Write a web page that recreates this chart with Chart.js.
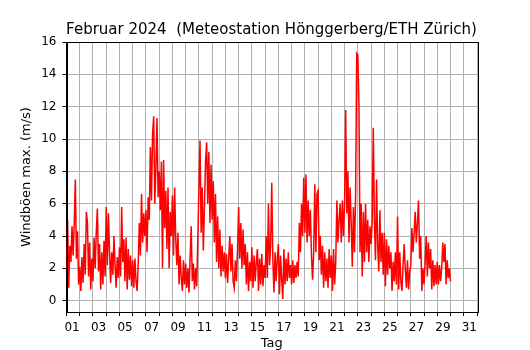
<!DOCTYPE html>
<html>
<head>
<meta charset="utf-8">
<script src="https://cdn.jsdelivr.net/npm/chart.js@4"></script>
<style>
  html, body { margin: 0; padding: 0; background: #ffffff; }
  canvas { display: block; }
</style>
</head>
<body>
<canvas id="c" width="530" height="350"></canvas>
<script>
// Max. wind gusts (m/s), one value every 2 hours
const stepDays = 1 / 12;
const week1 = [ // days 0-6
  2.0, 5.0, 0.8, 3.4, 2.4, 4.6, 2.8, 4.7, 7.5, 2.6, 4.3, 1.0,
  2.1, 0.6, 2.7, 1.1, 3.5, 1.6, 5.5, 4.8, 1.5, 3.6, 0.7, 2.6,
  1.2, 3.9, 2.0, 4.3, 5.7, 1.8, 3.5, 0.7, 3.0, 1.0, 3.7, 1.5,
  5.8, 2.2, 5.4, 3.0, 1.1, 3.0, 1.6, 4.0, 2.2, 0.8, 2.7, 1.4,
  3.3, 1.5, 5.8, 2.4, 3.8, 1.2, 3.9, 0.7, 3.2, 1.3, 2.8, 0.9,
  2.5, 0.8, 2.6, 1.2, 0.6, 2.3, 4.8, 2.8, 6.6, 3.6, 5.4, 4.0,
  5.6, 3.0, 6.4, 5.0, 9.5, 6.2, 10.3, 11.4, 6.0, 8.2, 11.3, 6.4
];
const week2 = [ // days 7-13
  8.0, 5.6, 8.6, 2.0, 8.7, 4.5, 6.8, 3.2, 7.0, 2.0, 5.5, 4.0,
  6.5, 2.8, 7.0, 3.8, 2.2, 4.2, 1.0, 2.8, 1.4, 0.6, 2.5, 1.0,
  2.3, 0.8, 2.0, 0.5, 2.6, 4.6, 1.2, 2.3, 0.7, 2.0, 0.9, 3.8,
  7.0, 9.9, 4.2, 7.0, 3.1, 5.8, 8.6, 9.8, 6.0, 9.2, 4.8, 8.4,
  5.0, 7.4, 3.6, 6.6, 2.4, 5.2, 2.0, 4.4, 1.5, 3.4, 1.8, 3.0,
  1.4, 2.9, 1.1, 2.6, 4.0, 1.8, 3.5, 1.2, 0.8, 2.5, 1.2, 3.2,
  5.8, 2.6, 4.8, 2.0, 4.4, 2.2, 3.5, 1.0, 3.0, 0.6, 2.4, 1.2
];
const week3 = [ // days 14-20
  3.3, 0.8, 2.8, 1.2, 2.4, 3.2, 0.6, 2.6, 1.0, 2.9, 0.9, 2.2,
  1.4, 4.0, 1.4, 6.0, 2.2, 3.4, 7.3, 2.6, 0.5, 3.0, 1.2, 2.6,
  3.5, 0.4, 2.8, 1.3, 0.1, 3.2, 1.0, 2.6, 1.2, 3.0, 1.4, 2.2,
  1.0, 2.5, 1.1, 2.2, 1.4, 2.4, 1.5, 4.8, 3.0, 6.0, 4.0, 7.6,
  4.2, 7.8, 3.6, 6.2, 4.0, 5.6, 2.8, 1.3, 3.0, 7.2, 3.0, 6.6,
  6.8, 2.5, 4.0, 1.6, 3.4, 0.8, 3.0, 1.2, 2.6, 0.8, 3.2, 1.4,
  2.8, 0.6, 3.2, 1.0, 2.4, 6.2, 3.6, 5.0, 6.0, 3.6, 6.2, 4.0
];
const week4 = [ // days 21-28 and end
  6.0, 11.8, 5.4, 8.0, 3.6, 7.0, 4.8, 2.1, 5.8, 3.0, 6.6, 15.3,
  15.2, 12.2, 3.0, 6.0, 1.5, 5.5, 2.4, 6.0, 3.0, 5.0, 2.4, 4.6,
  3.5, 4.8, 10.7, 5.0, 2.5, 7.5, 3.4, 1.8, 5.6, 2.4, 4.2, 1.6,
  4.2, 0.9, 3.8, 1.6, 3.4, 2.0, 3.0, 0.6, 2.4, 1.2, 3.0, 1.0,
  5.2, 0.7, 3.0, 1.2, 0.6, 2.2, 3.5, 2.0, 0.8, 2.5, 0.7, 1.8,
  2.2, 4.5, 3.0, 4.2, 5.5, 3.6, 4.8, 6.2, 2.6, 4.0, 0.6, 2.0,
  1.0, 2.4, 4.0, 1.5, 3.6, 2.0, 3.2, 0.7, 2.5, 0.9, 2.2, 1.0,
  2.4, 1.0, 2.2, 1.2, 2.0, 3.6, 2.4, 3.5, 1.0, 2.5, 1.4, 2.0,
  1.2
];
const gusts = [...week1, ...week2, ...week3, ...week4];
const xTickDays = [1,3,5,7,9,11,13,15,17,19,21,23,25,27,29,31];

const titleText = 'Februar 2024  (Meteostation Hönggerberg/ETH Zürich)';
const yTitle = 'Windböen max. (m/s)';
const xTitle = 'Tag';

const points = gusts.map((v, i) => ({ x: i * stepDays, y: v }));
const FONT = 'DejaVu Sans';

const framePlugin = {
  id: 'frame',
  afterDraw(chart) {
    const { ctx, chartArea: a } = chart;
    ctx.save();
    ctx.strokeStyle = '#000';
    ctx.lineWidth = 1;
    ctx.strokeRect(Math.round(a.left) + 0.5, Math.round(a.top) + 0.5,
                   Math.round(a.right - a.left), Math.round(a.bottom - a.top));
    ctx.restore();
  }
};

new Chart(document.getElementById('c'), {
  type: 'line',
  data: {
    datasets: [{
      data: points,
      borderColor: '#ff0000',
      borderWidth: 1.5,
      pointRadius: 0,
      tension: 0,
      fill: false
    }]
  },
  options: {
    responsive: false,
    animation: false,
    devicePixelRatio: 1,
    layout: { padding: { left: 13, right: 0, top: 0, bottom: 0 } },
    plugins: {
      legend: { display: false },
      tooltip: { enabled: false },
      title: {
        display: true,
        text: titleText,
        color: '#000',
        font: { family: FONT, size: 15, weight: 'normal', lineHeight: 1.2 },
        padding: { top: 21, bottom: 3 }
      }
    },
    scales: {
      x: {
        type: 'linear',
        min: 0, max: 31,
        afterFit: s => { s.height = 38; },
        grid: { color: '#b0b0b0', lineWidth: 1, tickColor: '#000', tickLength: 4 },
        border: { display: true, color: '#000', width: 1 },
        ticks: {
          stepSize: 1, autoSkip: false, maxRotation: 0, minRotation: 0,
          align: 'end', padding: 5, color: '#000',
          font: { family: FONT, size: 12 },
          callback: v => xTickDays.includes(v) ? String(v).padStart(2, '0') : ''
        },
        title: { display: true, text: xTitle, color: '#000',
                 font: { family: FONT, size: 13 }, padding: { top: 0, bottom: -1 } }
      },
      y: {
        type: 'linear',
        min: -0.7, max: 16,
        afterFit: s => { s.width = 53.5; },
        grid: { color: '#b0b0b0', lineWidth: 1, tickColor: '#000', tickLength: 4 },
        border: { display: true, color: '#000', width: 1 },
        ticks: { stepSize: 2, includeBounds: false, padding: 6, color: '#000',
                 font: { family: FONT, size: 12 } },
        title: { display: true, text: yTitle, color: '#000',
                 font: { family: FONT, size: 13 }, padding: { top: 6, bottom: 0 } }
      },
      yRight: {
        type: 'linear',
        position: 'right',
        display: true,
        afterFit: s => { s.width = 53; },
        grid: { display: false, drawTicks: false },
        border: { display: false },
        ticks: { display: false }
      }
    }
  },
  plugins: [framePlugin]
});
</script>
</body>
</html>
